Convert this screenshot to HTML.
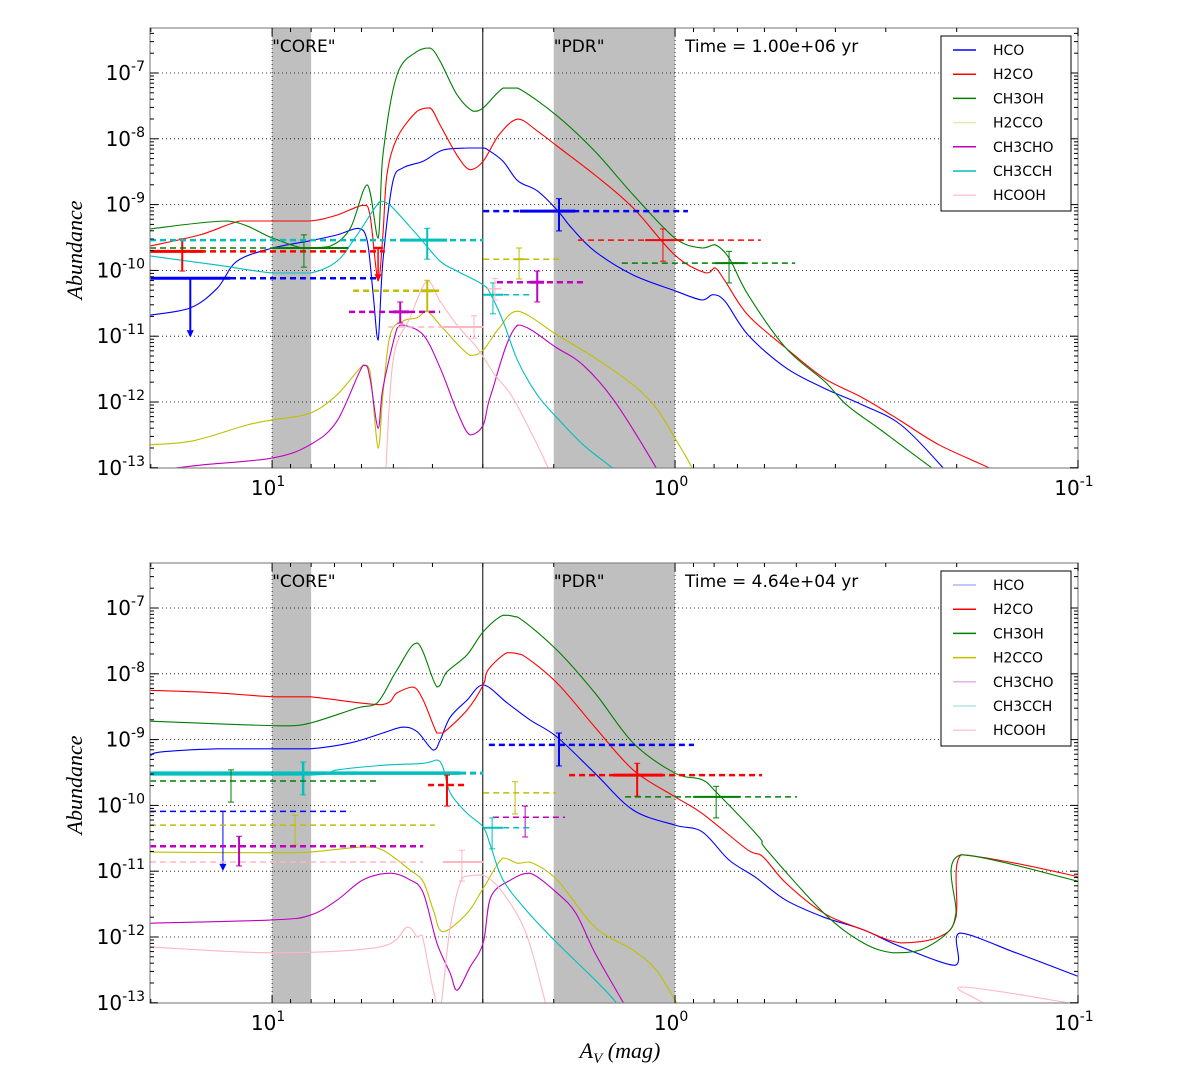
<!DOCTYPE html>
<html><head><meta charset="utf-8">
<style>
html,body{margin:0;padding:0;background:#fff;}
svg{display:block;font-family:"DejaVu Sans","Liberation Sans",sans-serif;}
</style></head>
<body>
<svg id="chart" width="1200" height="1068" viewBox="0 0 1200 1068" xmlns="http://www.w3.org/2000/svg"></svg>
<script>
// ---- data (x = log10 Av, y = log10 abundance) ----
const species = ["HCO","H2CO","CH3OH","H2CCO","CH3CHO","CH3CCH","HCOOH"];
const colors = ["#0000ff","#ff0000","#007f00","#bfbf00","#bf00bf","#00bfbf","#ffb6c1"];
const legendColorsTop = ["#0000ff","#ff0000","#007f00","#e6e6b3","#bf00bf","#00bfbf","#ffc8d2"];
const legendColorsBot = ["#b3b3ff","#ff0000","#007f00","#bfbf00","#e6b3e6","#b3e6e6","#ffc8d2"];
const panelTitles = ["Time = 1.00e+06 yr","Time = 4.64e+04 yr"];
const coreBand = [10, 8];
const pdrBand = [2, 1];
const divideAv = 3;
const yTickExps = [-7,-8,-9,-10,-11,-12,-13];
const xTickExps = [1,0,-1];

// Top panel curves
const t_HCO_x=[1.303,1.203,1.136,1.087,0.998,0.906,0.839,0.787,0.764,0.749,0.737,0.725,0.700,0.675,0.625,0.576,0.516,0.476,0.464,0.427,0.390,0.342,0.293,0.256,0.199,0.104,0.000,-0.067,-0.094,-0.124,-0.181,-0.275,-0.370,-0.467,-0.561,-0.665,-0.707];
const t_HCO_y=[-10.68,-10.57,-10.27,-9.86,-9.66,-9.55,-9.46,-9.36,-9.55,-10.37,-11.06,-9.86,-8.64,-8.44,-8.34,-8.17,-8.14,-8.14,-8.17,-8.34,-8.64,-8.79,-9.08,-9.36,-9.71,-10.07,-10.31,-10.45,-10.37,-10.47,-10.98,-11.48,-11.79,-12.05,-12.35,-13.00,-13.34];
const t_H2CO_x=[1.303,1.179,1.079,0.998,0.906,0.839,0.774,0.757,0.737,0.725,0.715,0.690,0.640,0.608,0.583,0.541,0.509,0.476,0.437,0.390,0.342,0.293,0.199,0.104,0.000,-0.077,-0.099,-0.124,-0.181,-0.275,-0.370,-0.467,-0.561,-0.655,-0.779,-0.831];
const t_H2CO_y=[-9.63,-9.46,-9.25,-9.25,-9.25,-9.16,-9.01,-9.16,-10.16,-9.46,-8.55,-7.99,-7.58,-7.53,-7.79,-8.25,-8.47,-8.34,-7.94,-7.70,-7.88,-8.11,-8.55,-9.05,-9.77,-10.04,-9.96,-10.16,-10.68,-11.18,-11.64,-11.94,-12.29,-12.65,-13.00,-13.19];
const t_CH3OH_x=[1.303,1.112,0.998,0.923,0.856,0.806,0.764,0.737,0.725,0.690,0.640,0.608,0.583,0.541,0.501,0.476,0.427,0.390,0.293,0.199,0.104,0.000,-0.067,-0.099,-0.134,-0.181,-0.275,-0.370,-0.427,-0.514,-0.628,-0.682];
const t_CH3OH_y=[-9.37,-9.25,-9.51,-9.66,-9.63,-9.36,-8.70,-9.51,-8.25,-7.03,-6.67,-6.62,-6.82,-7.33,-7.58,-7.53,-7.23,-7.23,-7.65,-8.19,-8.85,-9.51,-9.66,-9.61,-9.81,-10.37,-11.18,-11.68,-12.05,-12.44,-12.96,-13.19];
const t_H2CCO_x=[1.303,1.196,1.062,0.998,0.906,0.839,0.774,0.757,0.737,0.725,0.707,0.675,0.640,0.615,0.576,0.509,0.476,0.437,0.390,0.293,0.199,0.104,0.047,0.000,-0.042,-0.062];
const t_H2CCO_y=[-12.65,-12.59,-12.35,-12.27,-12.17,-11.89,-11.44,-11.53,-12.70,-11.89,-10.98,-10.77,-10.72,-10.62,-10.88,-11.29,-11.21,-10.88,-10.62,-10.98,-11.33,-11.74,-12.09,-12.55,-13.00,-13.34];
const t_CH3CHO_x=[1.303,1.179,0.998,0.906,0.839,0.774,0.757,0.737,0.725,0.690,0.675,0.625,0.583,0.541,0.509,0.476,0.457,0.390,0.293,0.228,0.151,0.047,0.025];
const t_CH3CHO_y=[-13.05,-12.96,-12.85,-12.65,-12.29,-11.44,-11.64,-12.40,-11.79,-10.88,-10.83,-10.98,-11.48,-12.14,-12.50,-12.35,-11.89,-10.83,-11.18,-11.44,-11.98,-13.00,-13.34];
const t_CH3CCH_x=[1.303,1.136,0.998,0.906,0.839,0.789,0.732,0.707,0.640,0.583,0.541,0.476,0.457,0.427,0.390,0.342,0.293,0.228,0.156,0.124];
const t_CH3CCH_y=[-9.78,-9.92,-10.04,-10.04,-9.86,-9.46,-8.95,-9.01,-9.46,-9.86,-10.01,-10.22,-10.37,-10.77,-11.38,-11.89,-12.24,-12.65,-13.00,-13.19];
const t_HCOOH_x=[0.720,0.700,0.658,0.615,0.583,0.541,0.491,0.447,0.407,0.360,0.315,0.298];
const t_HCOOH_y=[-13.34,-11.38,-10.72,-10.16,-10.47,-10.83,-11.18,-11.59,-11.89,-12.43,-13.00,-13.26];

// Bottom panel curves
const b_HCO_x=[1.303,1.278,1.136,0.998,0.906,0.806,0.725,0.675,0.640,0.600,0.583,0.558,0.516,0.476,0.417,0.360,0.293,0.199,0.104,0.000,-0.067,-0.134,-0.199,-0.275,-0.370,-0.467,-0.561,-0.695,-0.707,-0.846,-1.005];
const b_HCO_y=[-9.26,-9.19,-9.14,-9.14,-9.14,-9.05,-8.90,-8.81,-8.88,-9.16,-9.01,-8.66,-8.40,-8.17,-8.44,-8.70,-8.96,-9.51,-10.07,-10.30,-10.40,-10.83,-11.09,-11.44,-11.70,-11.89,-12.15,-12.43,-11.94,-12.24,-12.61];
const b_H2CO_x=[1.303,1.136,0.998,0.906,0.732,0.690,0.650,0.625,0.591,0.576,0.516,0.476,0.464,0.417,0.380,0.293,0.199,0.104,0.000,-0.067,-0.181,-0.218,-0.275,-0.370,-0.467,-0.561,-0.655,-0.697,-0.710,-0.846,-1.005];
const b_H2CO_y=[-8.25,-8.29,-8.35,-8.35,-8.47,-8.29,-8.20,-8.40,-8.90,-8.90,-8.55,-8.17,-7.94,-7.68,-7.71,-8.14,-8.81,-9.46,-9.87,-10.12,-10.68,-10.78,-11.18,-11.64,-11.89,-12.09,-12.00,-11.70,-10.75,-10.88,-11.09];
const b_CH3OH_x=[1.303,1.136,0.973,0.906,0.789,0.739,0.690,0.640,0.591,0.566,0.516,0.476,0.427,0.390,0.293,0.199,0.104,0.000,-0.067,-0.104,-0.208,-0.228,-0.370,-0.467,-0.541,-0.608,-0.675,-0.697,-0.710,-1.005];
const b_CH3OH_y=[-8.72,-8.76,-8.79,-8.75,-8.52,-8.44,-7.94,-7.53,-8.20,-7.97,-7.71,-7.36,-7.11,-7.14,-7.64,-8.29,-9.05,-9.51,-9.61,-9.81,-10.48,-10.68,-11.64,-12.09,-12.24,-12.20,-11.94,-11.64,-10.75,-11.16];
const b_H2CCO_x=[1.303,0.998,0.906,0.774,0.725,0.658,0.625,0.600,0.576,0.516,0.476,0.427,0.390,0.360,0.293,0.199,0.104,0.047,0.000,-0.025];
const b_H2CCO_y=[-10.71,-10.72,-10.71,-10.63,-10.68,-10.98,-11.16,-11.59,-11.92,-11.64,-11.26,-10.80,-10.88,-10.86,-11.13,-11.85,-12.20,-12.50,-12.96,-13.19];
const b_CH3CHO_x=[1.303,0.998,0.906,0.839,0.774,0.707,0.658,0.625,0.591,0.558,0.541,0.509,0.476,0.457,0.407,0.360,0.293,0.246,0.199,0.132,0.112];
const b_CH3CHO_y=[-11.79,-11.74,-11.67,-11.44,-11.13,-11.03,-11.13,-11.33,-12.09,-12.55,-12.81,-12.46,-12.09,-11.39,-11.13,-11.03,-11.33,-11.64,-12.24,-12.96,-13.19];
const b_CH3CCH_x=[1.303,0.906,0.839,0.725,0.625,0.591,0.576,0.558,0.516,0.476,0.457,0.427,0.370,0.293,0.199,0.151,0.124];
const b_CH3CCH_y=[-9.54,-9.54,-9.46,-9.39,-9.36,-9.31,-9.42,-9.81,-10.12,-10.33,-10.63,-11.13,-11.59,-12.09,-12.65,-12.96,-13.19];
const b_HCOOH_x=[1.303,0.998,0.732,0.665,0.640,0.628,0.600,0.583,0.558,0.526,0.476,0.427,0.370,0.323,0.310,-0.705,-0.710,-1.005];
const b_HCOOH_y=[-12.15,-12.24,-12.15,-11.85,-12.00,-11.97,-12.81,-13.11,-11.85,-11.09,-11.06,-11.33,-11.94,-12.96,-13.19,-13.19,-12.76,-13.03];

// Observations
const t_obsSp=[0,1,1,2,5,3,4,6,0,3,4,5,1,2,6];
const t_obsX=[1.203,1.223,0.737,0.921,0.615,0.615,0.682,0.499,0.288,0.387,0.342,0.452,0.030,-0.134,0.447];
const t_obsY=[-10.12,-9.71,-9.66,-9.66,-9.54,-10.31,-10.63,-10.86,-9.10,-9.83,-10.18,-10.37,-9.54,-9.89,-10.28];
const t_obsDLo=[1.303,1.303,0.749,1.303,1.303,0.799,0.809,0.712,0.476,0.476,0.442,0.476,0.241,0.132,0.470];
const t_obsDHi=[0.732,0.720,0.725,0.998,0.476,0.583,0.583,0.476,-0.032,0.278,0.228,0.357,-0.213,-0.298,0.420];
const t_obsSLo=[1.303,1.303,0.749,0.998,0.682,0.630,0.700,0.583,0.385,0.400,0.360,0.476,0.074,-0.099,0.460];
const t_obsSHi=[1.104,1.171,0.725,0.811,0.566,0.600,0.660,0.476,0.248,0.375,0.325,0.427,-0.020,-0.174,0.435];
const t_obsELo=[-10.12,-9.52,-9.66,-9.46,-9.36,-10.15,-10.48,-10.69,-8.91,-9.66,-10.01,-10.19,-9.37,-9.71,-10.12];
const t_obsEHi=[-11.00,-10.01,-10.15,-9.95,-9.83,-10.62,-10.80,-11.03,-9.40,-10.13,-10.48,-10.66,-9.86,-10.19,-10.45];
const t_obsW=[2.5,2.5,2,1.5,2.5,2.5,2.5,1.5,2.5,1.5,2.5,1.5,1.5,1.5,1];
const t_obsUL=[1,0,1,0,0,0,0,0,0,0,0,0,0,0,0];

const b_obsSp=[5,2,1,0,3,4,6,0,1,2,3,4,5];
const b_obsX=[0.923,1.102,0.566,1.122,0.943,1.082,0.529,0.288,0.094,-0.102,0.397,0.372,0.454];
const b_obsY=[-9.51,-9.63,-9.69,-10.09,-10.30,-10.62,-10.86,-9.08,-9.54,-9.87,-9.81,-10.18,-10.34];
const b_obsDLo=[1.303,1.303,0.613,1.303,1.303,1.303,1.303,0.462,0.263,0.124,0.476,0.452,0.476];
const b_obsDHi=[0.476,0.732,0.516,0.806,0.596,0.625,0.625,-0.047,-0.216,-0.303,0.295,0.273,0.357];
const b_obsSLo=[1.303,1.102,0.566,1.122,0.943,1.082,0.576,0.288,0.154,-0.045,0.397,0.372,0.476];
const b_obsSHi=[0.533,1.102,0.566,1.122,0.943,1.082,0.476,0.288,0.030,-0.161,0.397,0.372,0.427];
const b_obsELo=[-9.34,-9.46,-9.54,-10.09,-10.15,-10.47,-10.68,-8.90,-9.36,-9.71,-9.64,-10.01,-10.19];
const b_obsEHi=[-9.84,-9.95,-10.01,-10.98,-10.60,-10.92,-11.15,-9.40,-9.86,-10.19,-10.13,-10.48,-10.66];
const b_obsW=[3,1.5,2.5,1.5,1.5,2.5,1.5,2.5,2.5,1.5,1.5,1.5,1.5];
const b_obsUL=[0,0,0,1,0,0,0,0,0,0,0,0,0];

// ---- drawing ----
const NS="http://www.w3.org/2000/svg";
const svg=document.getElementById('chart');
const X0=150,X1=1078,xMax=1.303,xMin=-1.0;
const DEC=65.8;
function X(lx){return X0+(xMax-lx)/(xMax-xMin)*(X1-X0);}
function mk(tag,attrs,parent){const e=document.createElementNS(NS,tag);for(const k in attrs)e.setAttribute(k,attrs[k]);(parent||svg).appendChild(e);return e;}
function smoothPath(P){
  let d='M'+P[0][0].toFixed(1)+','+P[0][1].toFixed(1);
  for(let i=0;i<P.length-1;i++){
    const p0=P[i-1]||P[i],p1=P[i],p2=P[i+1],p3=P[i+2]||P[i+1];
    const lo=Math.min(p1[1],p2[1]),hi=Math.max(p1[1],p2[1]);
    const cl=v=>Math.max(lo,Math.min(hi,v));
    const c1x=p1[0]+(p2[0]-p0[0])/6,c1y=cl(p1[1]+(p2[1]-p0[1])/6);
    const c2x=p2[0]-(p3[0]-p1[0])/6,c2y=cl(p2[1]-(p3[1]-p1[1])/6);
    d+=` C${c1x.toFixed(1)},${c1y.toFixed(1)} ${c2x.toFixed(1)},${c2y.toFixed(1)} ${p2[0].toFixed(1)},${p2[1].toFixed(1)}`;
  }
  return d;
}

const panels=[
 {top:28,curvesX:[t_HCO_x,t_H2CO_x,t_CH3OH_x,t_H2CCO_x,t_CH3CHO_x,t_CH3CCH_x,t_HCOOH_x],curvesY:[t_HCO_y,t_H2CO_y,t_CH3OH_y,t_H2CCO_y,t_CH3CHO_y,t_CH3CCH_y,t_HCOOH_y],
  o:{sp:t_obsSp,x:t_obsX,y:t_obsY,dlo:t_obsDLo,dhi:t_obsDHi,slo:t_obsSLo,shi:t_obsSHi,elo:t_obsELo,ehi:t_obsEHi,w:t_obsW,ul:t_obsUL},leg:legendColorsTop,title:panelTitles[0]},
 {top:563,curvesX:[b_HCO_x,b_H2CO_x,b_CH3OH_x,b_H2CCO_x,b_CH3CHO_x,b_CH3CCH_x,b_HCOOH_x],curvesY:[b_HCO_y,b_H2CO_y,b_CH3OH_y,b_H2CCO_y,b_CH3CHO_y,b_CH3CCH_y,b_HCOOH_y],
  o:{sp:b_obsSp,x:b_obsX,y:b_obsY,dlo:b_obsDLo,dhi:b_obsDHi,slo:b_obsSLo,shi:b_obsSHi,elo:b_obsELo,ehi:b_obsEHi,w:b_obsW,ul:b_obsUL},leg:legendColorsBot,title:panelTitles[1]}
];

panels.forEach((p,pi)=>{
  const top=p.top,bot=top+440;
  const Y=ly=>top+45+(-7-ly)*DEC;
  const g=mk('g',{});
  
  
  const cp=mk('clipPath',{id:'clip'+pi},g);
  mk('rect',{x:X0,y:top,width:X1-X0,height:440},cp);
  [[coreBand,'core-band'],[pdrBand,'pdr-band']].forEach(([b,n])=>{
    const r=mk('rect',{x:X(Math.log10(b[0])),y:top,width:X(Math.log10(b[1]))-X(Math.log10(b[0])),height:440,fill:'#bfbfbf'},g);
    
    
  });
  yTickExps.forEach(e=>{ if(e>-13){const l=mk('line',{x1:X0,x2:X1,y1:Y(e),y2:Y(e),stroke:'#000','stroke-width':0.8,'stroke-dasharray':'1,3'},g);
     }});
  xTickExps.forEach(e=>{ if(e>-1){const l=mk('line',{x1:X(e),x2:X(e),y1:top,y2:bot,stroke:'#000','stroke-width':0.8,'stroke-dasharray':'1,3'},g);
     }});
  const dv=mk('line',{x1:X(Math.log10(divideAv)),x2:X(Math.log10(divideAv)),y1:top,y2:bot,stroke:'#000','stroke-width':1},g);
   
  const cg=mk('g',{'clip-path':'url(#clip'+pi+')'},g);
  p.curvesX.forEach((xs,i)=>{
    const ys=p.curvesY[i];
    const P=xs.map((v,k)=>[X(v),Y(ys[k])]);
    const pl=mk('path',{d:smoothPath(P),fill:'none',stroke:colors[i],'stroke-width':1.1,'stroke-linejoin':'round'},cg);
    
    
  });
  const o=p.o;
  o.sp.forEach((s,k)=>{
    const c=colors[s], w=o.w[k];
    const og=mk('g',{},cg);
    
    
    mk('line',{x1:X(o.dlo[k]),x2:X(o.dhi[k]),y1:Y(o.y[k]),y2:Y(o.y[k]),stroke:c,'stroke-width':w,'stroke-dasharray':'6,4'},og);
    mk('line',{x1:X(o.slo[k]),x2:X(o.shi[k]),y1:Y(o.y[k]),y2:Y(o.y[k]),stroke:c,'stroke-width':w+0.5},og);
    const ex=X(o.x[k]);
    mk('line',{x1:ex,x2:ex,y1:Y(o.elo[k]),y2:Y(o.ehi[k]),stroke:c,'stroke-width':Math.max(1,w-0.5)},og);
    if(o.ul[k]){const yy=Y(o.ehi[k]);mk('path',{d:`M${ex-3},${yy-6} L${ex},${yy} L${ex+3},${yy-6}`,fill:c,stroke:c},og);}
    else{[o.elo[k],o.ehi[k]].forEach(v=>mk('line',{x1:ex-3,x2:ex+3,y1:Y(v),y2:Y(v),stroke:c,'stroke-width':1},og));}
  });
  const fr=mk('rect',{x:X0,y:top,width:X1-X0,height:440,fill:'none',stroke:'#888','stroke-width':1.2},g);
   
  for(let e=-13;e<=-7;e++){
    for(let m=1;m<10;m++){
      const v=e+Math.log10(m); const y=Y(v); if(y<top-0.5)continue;
      const L=m===1?8:4;
      mk('line',{x1:X0,x2:X0+L,y1:y,y2:y,stroke:'#000','stroke-width':1},g);
      mk('line',{x1:X1,x2:X1-L,y1:y,y2:y,stroke:'#000','stroke-width':1},g);
    }
  }
  for(let e=-1;e<=1;e++){
    for(let m=1;m<10;m++){
      const v=e+Math.log10(m); if(v>xMax)continue; if(e===1&&m>2)continue;
      const x=X(v); const L=m===1?8:4;
      mk('line',{x1:x,x2:x,y1:bot,y2:bot-L,stroke:'#000','stroke-width':1},g);
      mk('line',{x1:x,x2:x,y1:top,y2:top+L,stroke:'#000','stroke-width':1},g);
    }
  }
  yTickExps.forEach(e=>{
    const t=mk('text',{x:145,y:Y(e)+7,'text-anchor':'end','font-size':20,fill:'#000'},g);
     
    t.appendChild(document.createTextNode('10'));
    const s=mk('tspan',{dy:-9,'font-size':14},t); s.textContent=String(e);
  });
  xTickExps.forEach(e=>{
    const t=mk('text',{x:X(e)-4,y:bot+27,'text-anchor':'middle','font-size':20,fill:'#000'},g);
     
    t.appendChild(document.createTextNode('10'));
    const s=mk('tspan',{dy:-9,'font-size':14},t); s.textContent=String(e);
  });
  const yt=mk('text',{x:0,y:0,transform:`translate(82,${top+222}) rotate(-90)`,'text-anchor':'middle','font-size':22,'font-style':'italic','font-family':'"Liberation Serif",serif'},g);
   
  yt.textContent='Abundance';
  const a1=mk('text',{x:X(1),y:top+24,'font-size':17},g); a1.textContent='"CORE"';
   
  const a2=mk('text',{x:X(Math.log10(2)),y:top+24,'font-size':17},g); a2.textContent='"PDR"';
   
  const a3=mk('text',{x:685,y:top+24,'font-size':17},g); a3.textContent=p.title;
   
  const lg=mk('g',{},g);
   
  mk('rect',{x:941,y:top+8,width:130,height:175,fill:'#fff',stroke:'#000','stroke-width':1},lg);
  species.forEach((s,i)=>{
    const yy=top+22+i*24.2;
    const le=mk('g',{},lg);
     
    mk('line',{x1:953,x2:976,y1:yy,y2:yy,stroke:p.leg[i],'stroke-width':1.5},le);
    const t=mk('text',{x:993,y:yy+5,'font-size':14},le); t.textContent=s;
  });
});
const xt=mk('text',{x:620,y:1058,'text-anchor':'middle','font-size':22,'font-style':'italic','font-family':'"Liberation Serif",serif'});
 
xt.appendChild(document.createTextNode('A'));
const sub=mk('tspan',{dy:5,'font-size':15},xt); sub.textContent='V';
const rest=mk('tspan',{dy:-5},xt); rest.textContent=' (mag)';
</script>
</body></html>
